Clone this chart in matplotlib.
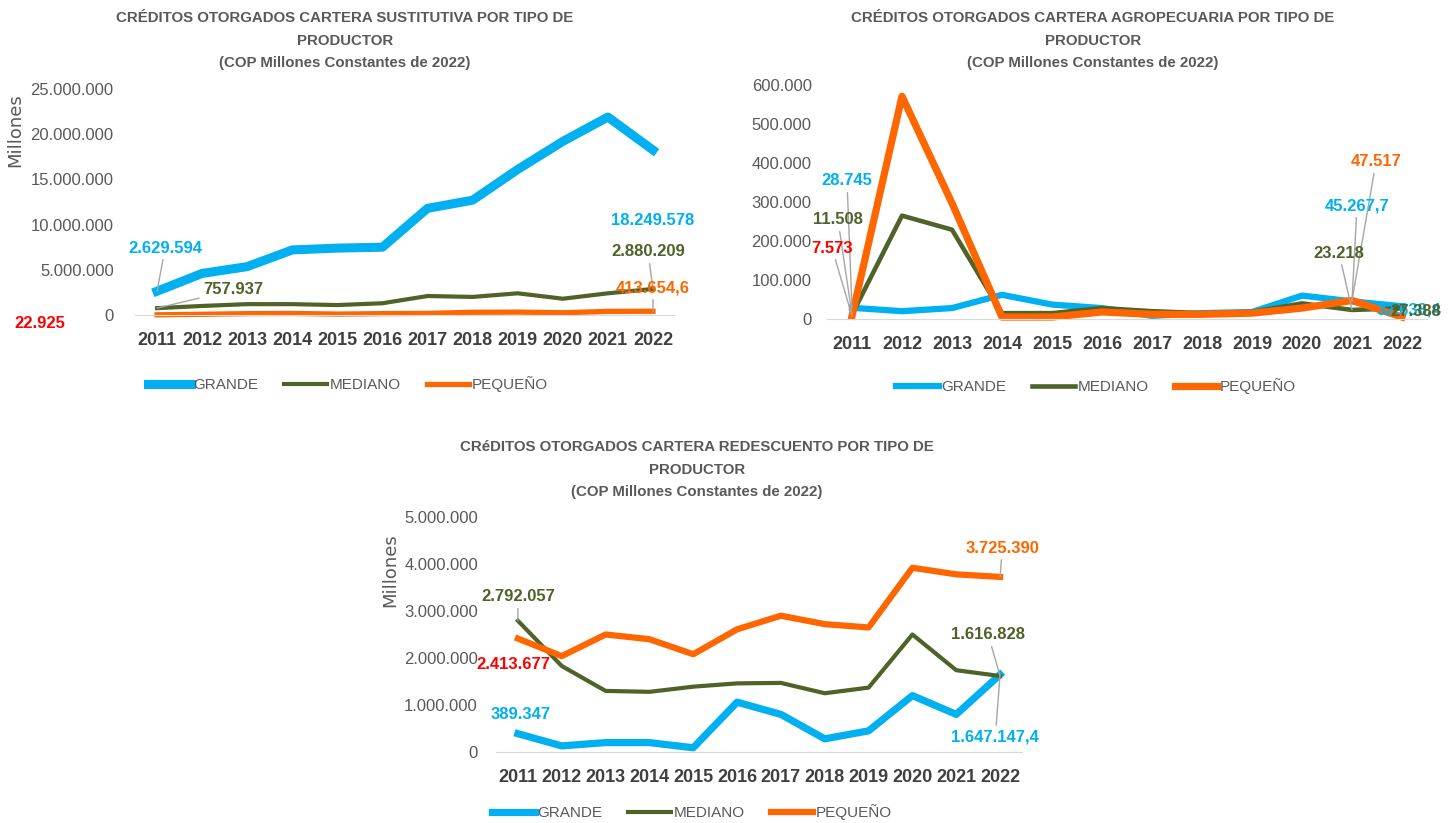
import matplotlib
matplotlib.use('Agg')
import matplotlib.pyplot as plt
from matplotlib.ticker import FuncFormatter
from matplotlib.lines import Line2D

plt.rcParams['font.family'] = ['Liberation Sans', 'DejaVu Sans']

# ================= datos =================
years = [2011, 2012, 2013, 2014, 2015, 2016, 2017, 2018, 2019, 2020, 2021, 2022]
series_names = ['GRANDE', 'MEDIANO', 'PEQUEÑO']

# cartera sustitutiva (COP millones)
sust_grande = [2629594, 4600000, 5350000, 7200000, 7400000, 7500000, 11800000, 12700000,
               16100000, 19200000, 21900000, 18249578]
sust_mediano = [757937, 1000000, 1200000, 1200000, 1100000, 1300000, 2100000, 2000000,
                2400000, 1800000, 2400000, 2880209]
sust_pequeno = [22925, 80000, 150000, 170000, 100000, 150000, 180000, 300000,
                320000, 250000, 400000, 413654.6]

# cartera agropecuaria
agro_grande = [28745, 20000, 28000, 62000, 37000, 28000, 8000, 15000, 18000, 60000, 45267.7, 32638.4]
agro_mediano = [11508, 265000, 229000, 15000, 15000, 28000, 20000, 15000, 18000, 40000, 23218, 27388]
agro_pequeno = [7573, 571000, 297000, 5000, 5000, 18000, 12000, 12000, 15000, 28000, 47517, 5000]

# cartera redescuento
red_grande = [389347, 130000, 200000, 200000, 90000, 1060000, 800000, 280000, 450000,
              1200000, 800000, 1647147.4]
red_mediano = [2792057, 1830000, 1300000, 1280000, 1390000, 1460000, 1470000, 1250000,
               1370000, 2500000, 1740000, 1616828]
red_pequeno = [2413677, 2040000, 2500000, 2400000, 2080000, 2610000, 2900000, 2720000,
               2650000, 3920000, 3780000, 3725390]

C_G = '#00B0F0'
C_M = '#4F6228'
C_P = '#FF6600'
C_RED = '#FF0000'
GRAY = '#595959'
LEADER = '#A6A6A6'

W, H = 1456, 823
fig = plt.figure(figsize=(W / 100, H / 100), dpi=100)


def px_axes(left, right, top, bottom):
    return fig.add_axes([left / W, (H - bottom) / H, (right - left) / W, (bottom - top) / H])


def thousands(v, pos):
    return f'{int(round(v)):,}'.replace(',', '.')


def setup(ax, ymax, ystep, ypad):
    ax.set_xlim(-0.5, len(years) - 0.5)
    ax.set_ylim(0, ymax)
    ax.set_yticks(range(0, int(ymax) + 1, ystep))
    ax.yaxis.set_major_formatter(FuncFormatter(thousands))
    ax.set_xticks(range(len(years)))
    ax.set_xticklabels([str(y) for y in years], fontsize=13, fontweight='bold', color='#404040')
    ax.tick_params(axis='y', length=0, labelsize=12, labelcolor=GRAY, pad=ypad)
    ax.tick_params(axis='x', length=0, pad=12)
    for s in ['top', 'right', 'left']:
        ax.spines[s].set_visible(False)
    ax.spines['bottom'].set_color('#D9D9D9')
    ax.patch.set_alpha(0)


def title(x, y, line1):
    fig.text(x / W, 1 - y / H, line1 + '\nPRODUCTOR\n(COP Millones Constantes de 2022)',
             ha='center', va='top', fontsize=10.8, fontweight='bold', color=GRAY, linespacing=1.78)


def label(ax, txt, color, xt, yt, xy=None):
    if xy is None:
        ax.text(xt, yt, txt, color=color, fontsize=12, fontweight='bold', ha='center', va='center',
                clip_on=False)
    else:
        ax.annotate(txt, xy=xy, xytext=(xt, yt), textcoords='data', color=color, fontsize=12,
                    fontweight='bold', ha='center', va='center', annotation_clip=False,
                    arrowprops=dict(arrowstyle='-', color=LEADER, lw=1, shrinkA=1, shrinkB=0))


def legend(ax, cx, cy, widths):
    handles = [Line2D([], [], color=c, lw=w) for c, w in zip([C_G, C_M, C_P], widths)]
    ax.legend(handles, series_names, loc='center', bbox_to_anchor=(cx / W, 1 - cy / H),
              bbox_transform=fig.transFigure, ncol=3, frameon=False, fontsize=11,
              handlelength=2.8, handletextpad=0.15, columnspacing=1.7, labelcolor=GRAY)


x = list(range(len(years)))

# ================= 1. cartera sustitutiva =================
ax1 = px_axes(134.5, 675.5, 89, 315)
setup(ax1, 25000000, 5000000, 15)
lw1 = [6.5, 3.0, 3.8]
ax1.plot(x, sust_grande, color=C_G, lw=lw1[0], clip_on=False)
ax1.plot(x, sust_mediano, color=C_M, lw=lw1[1], clip_on=False)
ax1.plot(x, sust_pequeno, color=C_P, lw=lw1[2], clip_on=False)
title(345, 11, 'CRÉDITOS OTORGADOS CARTERA SUSTITUTIVA POR TIPO DE')
fig.text(15 / W, 1 - 130 / H, 'Millones', rotation=90, ha='center', va='center', fontsize=13,
         color=GRAY, family=['DejaVu Sans'])
label(ax1, '2.629.594', C_G, 0.18, 7.41e6, (0, sust_grande[0]))
label(ax1, '757.937', C_M, 1.69, 2.77e6, (0, sust_mediano[0]))
label(ax1, '22.925', C_RED, -2.59, -0.885e6)
label(ax1, '18.249.578', C_G, 11.0, 10.4e6)
label(ax1, '2.880.209', C_M, 10.89, 6.97e6, (11, sust_mediano[11]))
label(ax1, '413.654,6', C_P, 11.0, 2.99e6, (11, sust_pequeno[11]))
legend(ax1, 348, 384, lw1)

# ================= 2. cartera agropecuaria =================
ax2 = px_axes(827, 1427, 85, 319)
setup(ax2, 600000, 100000, 11)
lw2 = [4.5, 3.3, 5.2]
ax2.plot(x, agro_grande, color=C_G, lw=lw2[0], clip_on=False)
ax2.plot(x, agro_mediano, color=C_M, lw=lw2[1], clip_on=False)
ax2.plot(x, agro_pequeno, color=C_P, lw=lw2[2], clip_on=False)
title(1093, 11, 'CRÉDITOS OTORGADOS CARTERA AGROPECUARIA POR TIPO DE')
label(ax2, '28.745', C_G, -0.1, 354000, (0, agro_grande[0]))
label(ax2, '11.508', C_M, -0.28, 254000, (0, agro_mediano[0]))
label(ax2, '7.573', C_RED, -0.4, 182000, (0, agro_pequeno[0]))
label(ax2, '47.517', C_P, 10.48, 403000, (10, agro_pequeno[10]))
label(ax2, '45.267,7', C_G, 10.1, 290000, (10, agro_grande[10]))
label(ax2, '23.218', C_M, 9.74, 169000, (10, agro_mediano[10]))
label(ax2, '32.638,4', C_G, 11.14, 23000)
label(ax2, '27.388', C_M, 11.28, 18000)
legend(ax2, 1096, 386, lw2)

# ================= 3. cartera redescuento =================
ax3 = px_axes(496, 1022, 517, 752)
setup(ax3, 5000000, 1000000, 13)
lw3 = [5.2, 3.0, 4.5]
ax3.plot(x, red_grande, color=C_G, lw=lw3[0], clip_on=False)
ax3.plot(x, red_mediano, color=C_M, lw=lw3[1], clip_on=False)
ax3.plot(x, red_pequeno, color=C_P, lw=lw3[2], clip_on=False)
title(697, 440, 'CRéDITOS OTORGADOS CARTERA REDESCUENTO POR TIPO DE')
fig.text(390 / W, 1 - 570 / H, 'Millones', rotation=90, ha='center', va='center', fontsize=13,
         color=GRAY, family=['DejaVu Sans'])
label(ax3, '2.792.057', C_M, 0.0, 3.30e6, (0, red_mediano[0]))
label(ax3, '2.413.677', C_RED, -0.11, 1.87e6)
label(ax3, '389.347', C_G, 0.07, 0.79e6)
label(ax3, '3.725.390', C_P, 11.05, 4.34e6, (11, red_pequeno[11]))
label(ax3, '1.616.828', C_M, 10.73, 2.49e6, (11, red_mediano[11]))
label(ax3, '1.647.147,4', C_G, 10.89, 0.32e6, (11, red_grande[11]))
legend(ax3, 692, 812, lw3)

fig.savefig('out.png', dpi=100)
